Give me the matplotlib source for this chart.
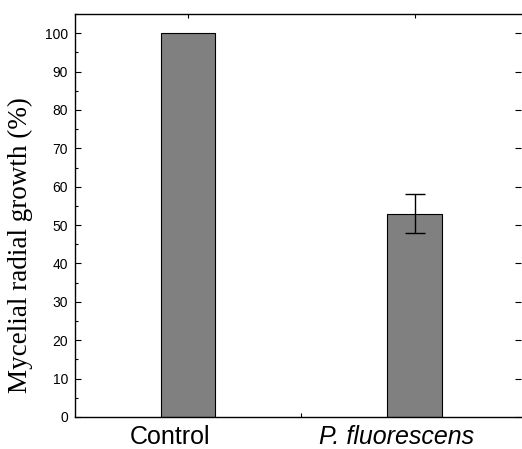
import matplotlib
matplotlib.use("Agg")
from matplotlib import pyplot as plt
from matplotlib.ticker import MultipleLocator, FixedLocator
from matplotlib.transforms import ScaledTranslation

# data
categories = ["Control", "P. fluorescens"]
growth = [100, 53]
growth_err = [0, 5]
y_ticks = [0, 10, 20, 30, 40, 50, 60, 70, 80, 90, 100]

fig = plt.figure(figsize=(5.22, 4.49), dpi=100)
ax = fig.add_axes([75/522, 1 - 417/449, 446/522, 403/449])

x = [1, 2]
ax.bar(x, growth, width=0.24, color="#808080", edgecolor="black", linewidth=0.8, zorder=2)
ax.errorbar(x[1], growth[1], yerr=growth_err[1], fmt="none", ecolor="black",
            elinewidth=1.0, capsize=7.5, capthick=1.0, zorder=3)

ax.set_xlim(0.5, 2.47)
ax.set_ylim(0, 105)
ax.set_yticks(y_ticks)
ax.yaxis.set_minor_locator(MultipleLocator(5))
ax.set_xticks(x)
ax.xaxis.set_minor_locator(FixedLocator([1.5]))

ax.spines["right"].set_visible(False)
for s in ["left", "bottom", "top"]:
    ax.spines[s].set_linewidth(1.0)

ax.tick_params(axis="both", which="major", direction="in", top=True, right=True, width=0.8)
ax.tick_params(axis="both", which="minor", direction="in", top=False, right=False, width=0.8)
ax.tick_params(axis="y", which="major", length=4, labelsize=10, pad=5)
ax.tick_params(axis="y", which="minor", length=2.5)
ax.tick_params(axis="x", which="major", length=3, pad=6)
ax.tick_params(axis="x", which="minor", length=3)

for lab in ax.get_yticklabels():
    lab.set_fontfamily("Liberation Sans")
ax.set_xticklabels(categories, fontsize=18, fontfamily="Liberation Sans")
ax.get_xticklabels()[1].set_style("italic")
shift = ScaledTranslation(-18/100, 0, fig.dpi_scale_trans)
for lab in ax.get_xticklabels():
    lab.set_transform(lab.get_transform() + shift)

ax.set_ylabel("Mycelial radial growth (%)", fontsize=19.5, fontfamily="Liberation Serif")
ax.yaxis.set_label_coords(-42/446, (417-245)/403)

fig.savefig("out.png", dpi=100)
